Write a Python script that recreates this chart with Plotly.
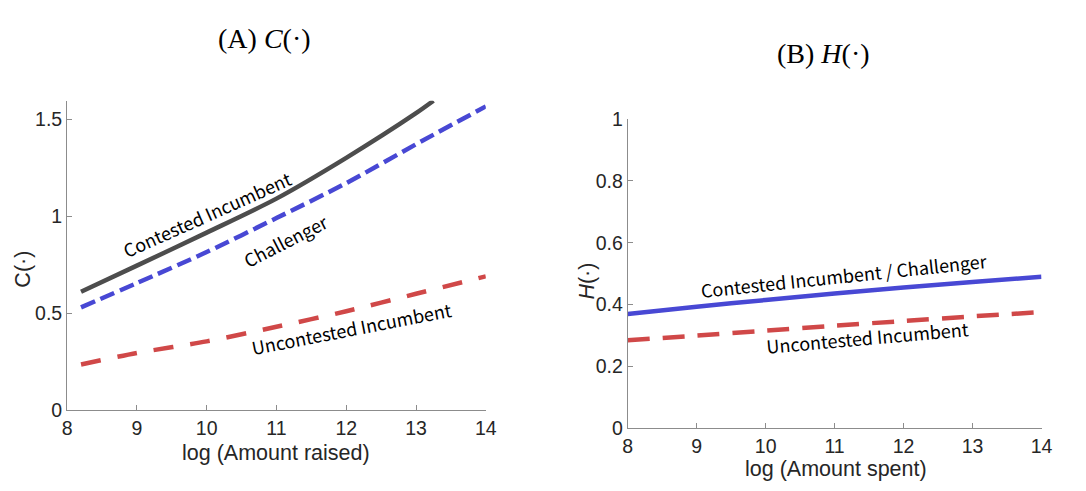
import plotly.graph_objects as go

# ---- data ----
x_left = [8.2, 9, 10, 11, 12, 13, 13.25]
c_contested = [0.61, 0.745, 0.915, 1.09, 1.30, 1.53, 1.594]
x_left2 = [8.2, 9, 10, 11, 12, 13, 14]
c_challenger = [0.53, 0.655, 0.815, 0.99, 1.17, 1.37, 1.565]
c_uncontested = [0.236, 0.295, 0.355, 0.43, 0.51, 0.60, 0.69]

x_right = [8, 9, 10, 11, 12, 13, 14]
h_contested = [0.37, 0.393, 0.415, 0.436, 0.455, 0.473, 0.49]
h_uncontested = [0.285, 0.30, 0.316, 0.332, 0.347, 0.362, 0.376]

x_ticks = [8, 9, 10, 11, 12, 13, 14]
yl_ticks = [0, 0.5, 1, 1.5]
yl_ticktext = ["0", "0.5", "1", "1.5"]
yr_ticks = [0, 0.2, 0.4, 0.6, 0.8, 1]
yr_ticktext = ["0", "0.2", "0.4", "0.6", "0.8", "1"]

GRAY = "#4d4d4d"
BLUE = "#4848d4"
RED = "#d04848"
W, H = 1086, 491

fig = go.Figure()
fig.add_trace(go.Scatter(x=x_left, y=c_contested, mode="lines",
                         line=dict(color=GRAY, width=4.5, shape="spline", smoothing=0.8),
                         xaxis="x", yaxis="y"))
fig.add_trace(go.Scatter(x=x_left2, y=c_challenger, mode="lines",
                         line=dict(color=BLUE, width=4.5, dash="15px,6px", shape="spline", smoothing=0.8),
                         xaxis="x", yaxis="y"))
fig.add_trace(go.Scatter(x=x_left2, y=c_uncontested, mode="lines",
                         line=dict(color=RED, width=4.5, dash="20px,17px", shape="spline", smoothing=0.8),
                         xaxis="x", yaxis="y"))
fig.add_trace(go.Scatter(x=x_right, y=h_contested, mode="lines",
                         line=dict(color=BLUE, width=4.5, shape="spline", smoothing=0.8),
                         xaxis="x2", yaxis="y2"))
fig.add_trace(go.Scatter(x=x_right, y=h_uncontested, mode="lines",
                         line=dict(color=RED, width=4.5, dash="22px,13px", shape="spline", smoothing=0.8),
                         xaxis="x2", yaxis="y2"))

axis_common = dict(showline=True, linecolor="#8c8c8c", linewidth=1, ticks="inside",
                   ticklen=5, tickcolor="#8c8c8c", showgrid=False, zeroline=False,
                   mirror=False, tickfont=dict(family="Liberation Sans, Arial", size=19.5, color="#262626"),
                   fixedrange=True)

fig.update_layout(
    width=W, height=H, margin=dict(l=0, r=0, t=0, b=0),
    paper_bgcolor="white", plot_bgcolor="white", showlegend=False,
    xaxis=dict(domain=[63 / W, 488 / W], range=[8, 14], tickvals=x_ticks,
               anchor="y", **axis_common),
    yaxis=dict(domain=[1 - 418 / H, 1 - 94 / H], range=[0, 1.594], tickvals=yl_ticks,
               ticktext=yl_ticktext, anchor="x", **axis_common),
    xaxis2=dict(domain=[632 / W, 1052 / W], range=[8, 14], tickvals=x_ticks,
                anchor="y2", **axis_common),
    yaxis2=dict(domain=[1 - 437 / H, 1 - 113 / H], range=[0, 1], tickvals=yr_ticks,
                ticktext=yr_ticktext, anchor="x2", **axis_common),
)

def pann(text, x, y, size, family="Liberation Sans, Arial", angle=0, color="#262626"):
    fig.add_annotation(text=text, x=x / W, y=1 - y / H, xref="paper", yref="paper",
                       showarrow=False, textangle=angle,
                       font=dict(family=family, size=size, color=color),
                       xanchor="center", yanchor="middle")

SERIF = "Liberation Serif, Times New Roman, serif"
pann("(A) <i>C</i>(·)", 263, 29, 28, SERIF, color="black")
pann("(B) <i>H</i>(·)", 831, 45, 28, SERIF, color="black")
pann("log (Amount raised)", 275, 463, 21.5)
pann("log (Amount spent)", 843, 480, 21.5)
pann("C(·)", 18, 270, 21.5, angle=-90)
pann("<i>H</i>(·)", 591, 283, 21.5, angle=-90)

LBL = "Noto Sans CJK JP, Noto Sans, sans-serif"
def dann(text, x, y, xref, yref, angle):
    fig.add_annotation(text=text, x=x, y=y, xref=xref, yref=yref, showarrow=False,
                       textangle=angle, font=dict(family=LBL, size=18, color="black"),
                       xanchor="center", yanchor="middle")

dann("Contested Incumbent", 10.0, 1.013, "x", "y", -24)
dann("Challenger", 11.14, 0.876, "x", "y", -27)
dann("Uncontested Incumbent", 12.08, 0.423, "x", "y", -11)
dann("Contested Incumbent / Challenger", 11.14, 0.497, "x2", "y2", -6)
dann("Uncontested Incumbent", 11.47, 0.296, "x2", "y2", -5)

fig.write_html("out.html")
